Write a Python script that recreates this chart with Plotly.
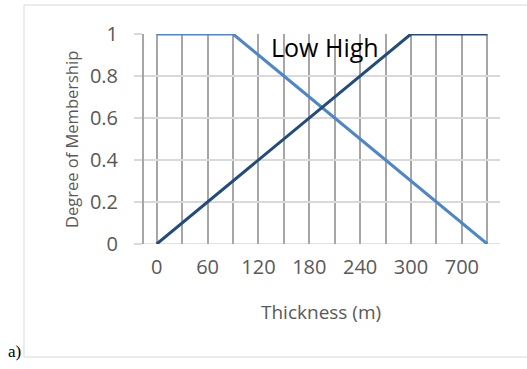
import plotly.graph_objects as go

categories = [0, 30, 60, 90, 120, 150, 180, 210, 240, 270, 300, 500, 700, 900]
shown_labels = ["0", "", "60", "", "120", "", "180", "", "240", "", "300", "", "700", ""]
low = [1, 1, 1, 1, 0.9, 0.8, 0.7, 0.6, 0.5, 0.4, 0.3, 0.2, 0.1, 0]
high = [0, 0.1, 0.2, 0.3, 0.4, 0.5, 0.6, 0.7, 0.8, 0.9, 1, 1, 1, 1]
y_ticks = [0, 0.2, 0.4, 0.6, 0.8, 1]
y_ticktext = ["0", "0.2", "0.4", "0.6", "0.8", "1"]

W, H = 527, 369
L, R, T, B = 144, 500, 34, 244  # plot area in px


def px(x):
    return (x - L) / (R - L)


def py(y):
    return (B - y) / (B - T)


FONT = "Open Sans"
idx = list(range(len(categories)))

fig = go.Figure()
fig.add_trace(go.Scatter(x=idx, y=low, mode="lines", name="Low",
                         line=dict(color="#4F86C6", width=3), cliponaxis=False))
fig.add_trace(go.Scatter(x=idx, y=high, mode="lines", name="High",
                         line=dict(color="#234C7E", width=3), cliponaxis=False))

fig.update_layout(
    width=W, height=H,
    margin=dict(l=L, r=W - R, t=T, b=H - B),
    paper_bgcolor="white", plot_bgcolor="white",
    showlegend=False,
    font=dict(family=FONT, color="#595959"),
    xaxis=dict(range=[-0.5, len(categories) - 0.5], tickmode="array",
               tickvals=idx, ticktext=shown_labels,
               showgrid=True, gridcolor="#A6A6A6", gridwidth=2,
               zeroline=False, showline=False, ticks="",
               tickfont=dict(size=20, color="#595959", family=FONT),
               ticklabelstandoff=9),
    yaxis=dict(range=[0, 1], tickmode="array", tickvals=y_ticks, ticktext=y_ticktext,
               showgrid=True, gridcolor="#D9D9D9", gridwidth=1.5,
               zeroline=False, showline=True, linecolor="#A6A6A6", linewidth=2,
               ticks="outside", ticklen=8, tickcolor="#D9D9D9", tickwidth=1.5,
               tickfont=dict(size=20, color="#595959", family=FONT),
               ticklabelstandoff=12),
)

# x-axis baseline
fig.add_shape(type="line", xref="paper", yref="y", x0=px(136), x1=1, y0=0, y1=0,
              line=dict(color="#D9D9D9", width=1.5), layer="below")

# chart border
fig.add_shape(type="rect", xref="paper", yref="paper",
              x0=px(24), x1=px(535), y0=py(357), y1=py(5),
              line=dict(color="#D9D9D9", width=1))


def note(x, y, text, size, color, family=FONT, angle=0):
    fig.add_annotation(x=px(x), y=py(y), xref="paper", yref="paper",
                       xanchor="center", yanchor="middle",
                       text=text, showarrow=False, textangle=angle,
                       font=dict(size=size, color=color, family=family))


note(325, 47, "Low High", 25, "black")
note(321, 312, "Thickness (m)", 19, "#595959")
note(71, 140, "Degree of Membership", 16.5, "#595959", angle=-90)
note(14, 351, "a)", 17, "black", family="Liberation Serif")

fig.write_html("out.html")
